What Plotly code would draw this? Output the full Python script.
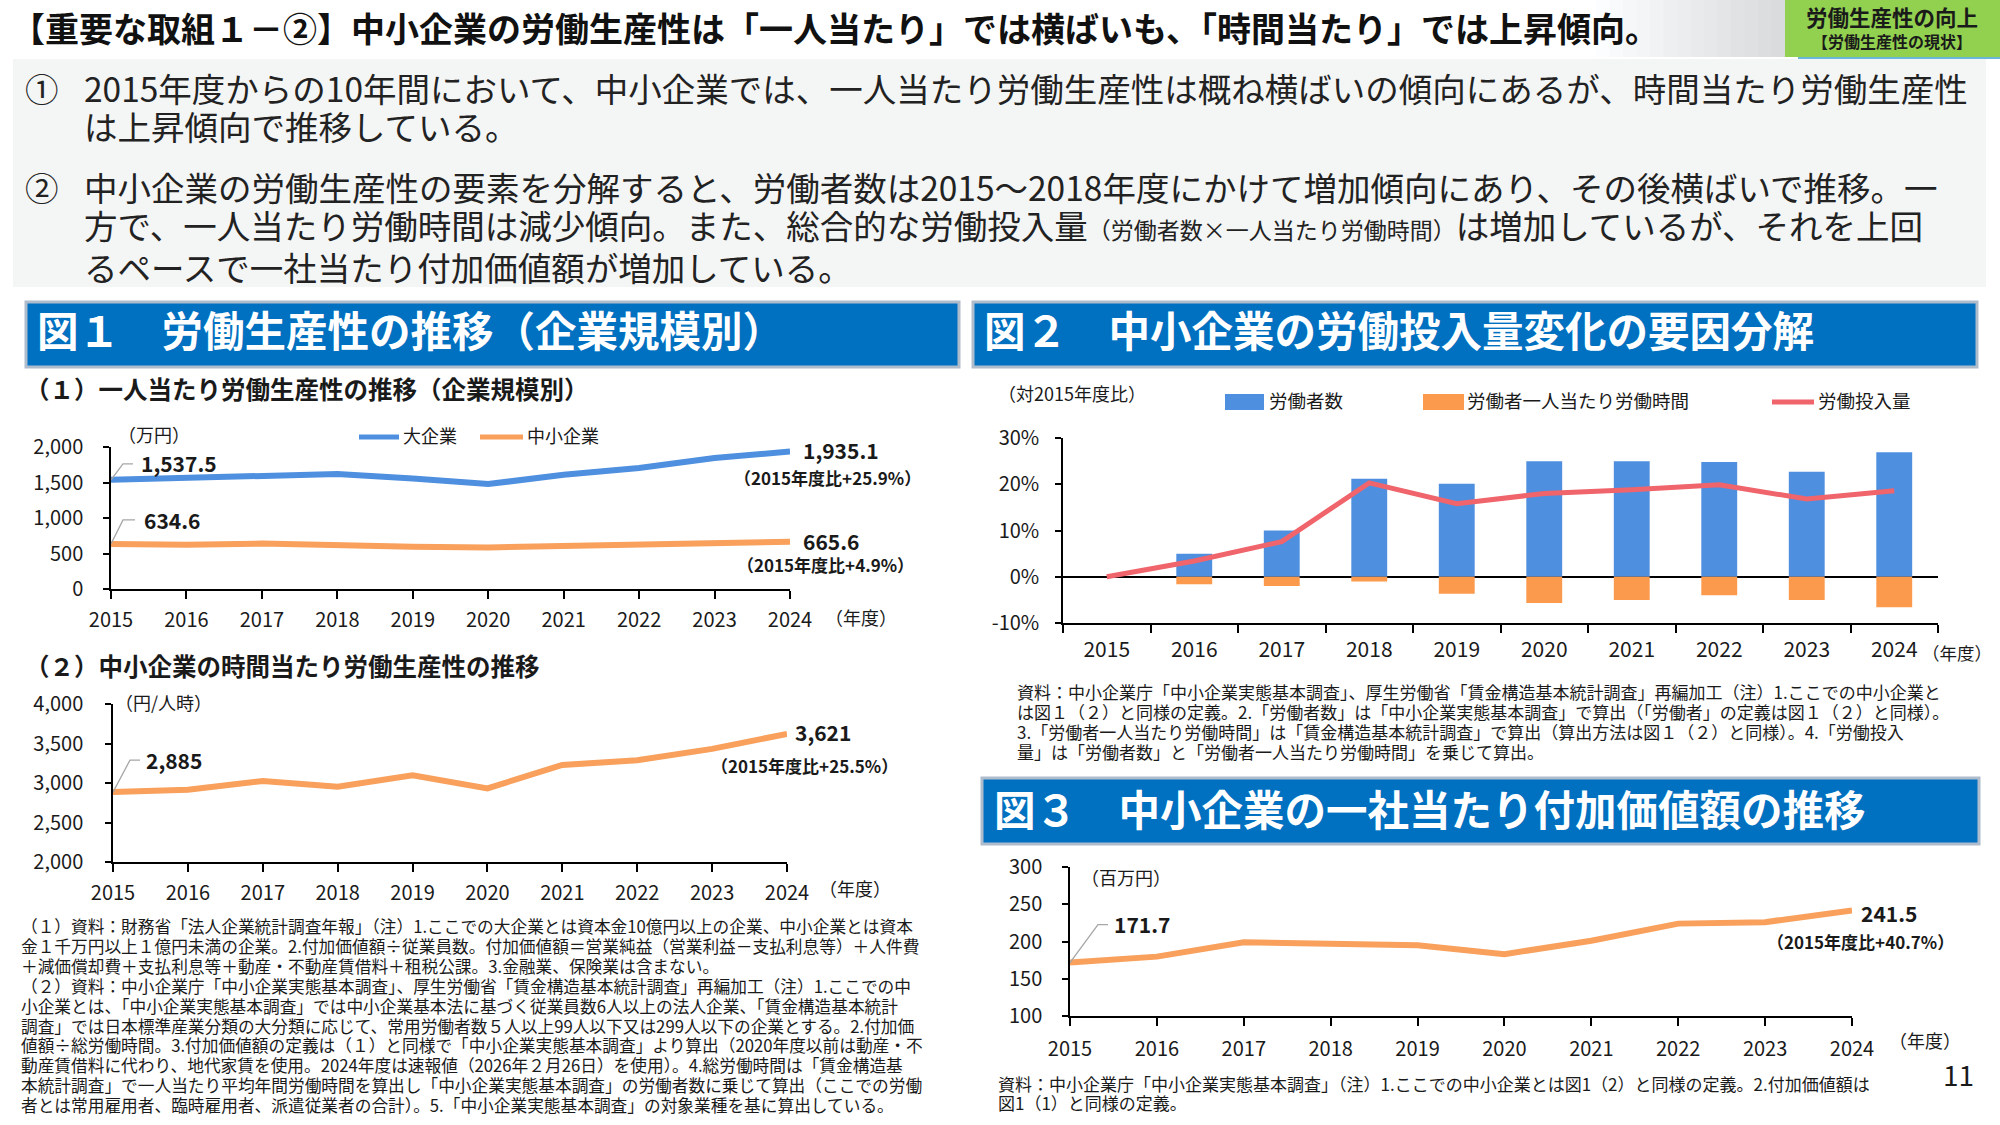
import plotly.graph_objects as go

W, H = 2000, 1125
FONT = "Noto Sans CJK JP"
TXT = "#1a1a1a"

# ---------------- data ----------------
years = list(range(2015, 2025))
year_labels = [str(y) for y in years]

large_per_worker = [1537.5, 1565, 1582, 1620, 1555, 1478, 1610, 1705, 1845, 1935.1]   # 万円
sme_per_worker = [634.6, 622, 640, 610, 596, 585, 605, 617, 630, 665.6]               # 万円
sme_per_hour = [2885, 2915, 3025, 2953, 3097, 2932, 3229, 3288, 3432, 3621]           # 円/人時
workers_pct = [0, 5.0, 10.0, 21.2, 20.1, 25.0, 25.0, 24.8, 22.7, 26.9]                 # 労働者数
hours_pct = [0, -1.6, -2.0, -1.0, -3.7, -5.7, -5.0, -4.0, -5.0, -6.6]                 # 一人当たり労働時間
labor_input_pct = [0, 3.4, 7.6, 20.3, 15.8, 18.0, 18.8, 19.9, 16.8, 18.6]             # 労働投入量
value_added = [171.7, 179.7, 199.0, 196.0, 195.0, 183.0, 201.0, 224.0, 226.0, 241.5]  # 百万円

fig1a_ticks = [0, 500, 1000, 1500, 2000]
fig1b_ticks = [2000, 2500, 3000, 3500, 4000]
fig2_ticks = [-10, 0, 10, 20, 30]
fig2_ticktext = [f"{v}%" for v in fig2_ticks]
fig3_ticks = [100, 150, 200, 250, 300]

BLUE = "#4e8fdf"
ORANGE = "#f8a05c"
BAR_BLUE = "#4f8fe0"
BAR_ORANGE = "#fb9a4c"
RED = "#f0646b"
LEADER = "#a6a6a6"
HEADER = "#0070c0"


def fx(x):
    return x / W


def fy(y):
    return 1 - y / H


annotations = []
shapes = []


def text(x, y, s, size, bold=False, color=TXT, xanchor="left", yanchor="middle"):
    annotations.append(dict(
        xref="paper", yref="paper", x=fx(x), y=fy(y), text=s, showarrow=False,
        xanchor=xanchor, yanchor=yanchor, borderpad=0,
        font=dict(family=FONT, size=size, color=color, weight="bold" if bold else "normal")))


def rect(x0, y0, x1, y1, fill, line=None, lw=0):
    shapes.append(dict(type="rect", xref="paper", yref="paper",
                       x0=fx(x0), x1=fx(x1), y0=fy(y1), y1=fy(y0),
                       fillcolor=fill, line=dict(color=line or fill, width=lw), layer="below"))


def hline(x0, x1, y, color, width):
    shapes.append(dict(type="line", xref="paper", yref="paper",
                       x0=fx(x0), x1=fx(x1), y0=fy(y), y1=fy(y),
                       line=dict(color=color, width=width)))


def dlabel(xa, ya, x, y, s, size, xshift, yshift, xanchor="left", yanchor="middle"):
    annotations.append(dict(
        xref=xa, yref=ya, x=x, y=y, text=s, showarrow=False, xanchor=xanchor, yanchor=yanchor,
        xshift=xshift, yshift=yshift, borderpad=0,
        font=dict(family=FONT, size=size, color=TXT, weight="bold")))


def leader(xa, ya, x, y, path):
    shapes.append(dict(type="path", xref=xa, yref=ya, xsizemode="pixel", ysizemode="pixel",
                       xanchor=x, yanchor=y, path=path, line=dict(color=LEADER, width=1.3)))


# ---------------- page decoration ----------------
n = 14
for i in range(n):
    x0 = 1596 + (1785 - 1596) * i / n
    x1 = 1596 + (1785 - 1596) * (i + 1) / n + 0.5
    g = int(252 - (252 - 218) * (i / (n - 1)))
    rect(x0, 0, x1, 57, f"rgb({g},{g + 1},{g + 3})")
rect(1785, 0, 2000, 57, "#92d050")
hline(1798, 2000, 58, "#3a9fd0", 1.5)
text(1892, 16, "労働生産性の向上", 21.5, bold=True, xanchor="center")
text(1892, 41, "【労働生産性の現状】", 16, bold=True, xanchor="center")

# title
text(10, 27, "【重要な取組１－②】中小企業の労働生産性は「一人当たり」では横ばいも、「時間当たり」では上昇傾向。",
     34, bold=True, color="#111111")

# summary box
rect(13, 59, 1986, 287, "#f4f5f5")
SUM = 33.5
SUMC = "#222222"
text(24, 87, "①", SUM, color=SUMC)
text(83, 87, "2015年度からの10年間において、中小企業では、一人当たり労働生産性は概ね横ばいの傾向にあるが、時間当たり労働生産性", SUM, color=SUMC)
text(83, 126, "は上昇傾向で推移している。", SUM, color=SUMC)
text(24, 186, "②", SUM, color=SUMC)
text(83, 186, "中小企業の労働生産性の要素を分解すると、労働者数は2015～2018年度にかけて増加傾向にあり、その後横ばいで推移。一", SUM, color=SUMC)
text(83, 224, "方で、一人当たり労働時間は減少傾向。また、総合的な労働投入量<span style='font-size:23px'>（労働者数×一人当たり労働時間）</span>は増加しているが、それを上回", SUM, color=SUMC)
text(83, 266, "るペースで一社当たり付加価値額が増加している。", SUM, color=SUMC)

# figure headers
rect(26, 302, 959, 367, HEADER, line="#aebccb", lw=3)
text(36, 329, "図１　労働生産性の推移（企業規模別）", 41.5, bold=True, color="white")
rect(973, 302, 1977, 367, HEADER, line="#aebccb", lw=3)
text(983, 329, "図２　中小企業の労働投入量変化の要因分解", 41.5, bold=True, color="white")
rect(982, 778, 1979, 844, HEADER, line="#aebccb", lw=3)
text(993, 808, "図３　中小企業の一社当たり付加価値額の推移", 41.5, bold=True, color="white")

# sub-titles
text(24, 389, "（１）一人当たり労働生産性の推移（企業規模別）", 24.5, bold=True)
text(24, 665, "（２）中小企業の時間当たり労働生産性の推移", 24.5, bold=True)

# unit / axis-title labels
text(117, 434, "（万円）", 18)
text(824, 617, "（年度）", 18)
text(114, 702, "（円/人時）", 18)
text(818, 888, "（年度）", 18)
text(997, 393, "（対2015年度比）", 18)
text(1921, 652, "（年度）", 17.5)
text(1080, 877, "（百万円）", 18)
text(1888, 1040, "（年度）", 18)

# legend: figure 1 (1)
hline(359, 399, 437, BLUE, 5)
text(402, 435, "大企業", 18)
hline(480, 523, 437, ORANGE, 5)
text(526, 435, "中小企業", 18)

# legend: figure 2
rect(1225, 394, 1264, 410, BAR_BLUE)
text(1268, 400, "労働者数", 18.5)
rect(1423, 394, 1464, 410, BAR_ORANGE)
text(1466, 400, "労働者一人当たり労働時間", 18.5)
hline(1772, 1814, 402, RED, 5)
text(1817, 400, "労働投入量", 18.5)

# notes
notes1 = [
    "（１）資料：財務省「法人企業統計調査年報」（注）1.ここでの大企業とは資本金10億円以上の企業、中小企業とは資本",
    "金１千万円以上１億円未満の企業。2.付加価値額÷従業員数。付加価値額＝営業純益（営業利益－支払利息等）＋人件費",
    "＋減価償却費＋支払利息等＋動産・不動産賃借料＋租税公課。3.金融業、保険業は含まない。",
    "（２）資料：中小企業庁「中小企業実態基本調査」、厚生労働省「賃金構造基本統計調査」再編加工（注）1.ここでの中",
    "小企業とは、「中小企業実態基本調査」では中小企業基本法に基づく従業員数6人以上の法人企業、「賃金構造基本統計",
    "調査」では日本標準産業分類の大分類に応じて、常用労働者数５人以上99人以下又は299人以下の企業とする。2.付加価",
    "値額÷総労働時間。3.付加価値額の定義は（１）と同様で「中小企業実態基本調査」より算出（2020年度以前は動産・不",
    "動産賃借料に代わり、地代家賃を使用。2024年度は速報値（2026年２月26日）を使用）。4.総労働時間は「賃金構造基",
    "本統計調査」で一人当たり平均年間労働時間を算出し「中小企業実態基本調査」の労働者数に乗じて算出（ここでの労働",
    "者とは常用雇用者、臨時雇用者、派遣従業者の合計）。5.「中小企業実態基本調査」の対象業種を基に算出している。",
]
for i, s in enumerate(notes1):
    text(20, 926 + i * 19.9, s, 16.7)

notes2 = [
    "資料：中小企業庁「中小企業実態基本調査」、厚生労働省「賃金構造基本統計調査」再編加工（注）1.ここでの中小企業と",
    "は図１（２）と同様の定義。2.「労働者数」は「中小企業実態基本調査」で算出（「労働者」の定義は図１（２）と同様）。",
    "3.「労働者一人当たり労働時間」は「賃金構造基本統計調査」で算出（算出方法は図１（２）と同様）。4.「労働投入",
    "量」は「労働者数」と「労働者一人当たり労働時間」を乗じて算出。",
]
for i, s in enumerate(notes2):
    text(1016, 691 + i * 20, s, 17)

notes3 = [
    "資料：中小企業庁「中小企業実態基本調査」（注）1.ここでの中小企業とは図1（2）と同様の定義。2.付加価値額は",
    "図1（1）と同様の定義。",
]
for i, s in enumerate(notes3):
    text(997, 1083 + i * 19.5, s, 17)

text(1958, 1074, "11", 28, xanchor="center")

# ---------------- traces ----------------
common = dict(mode="lines", cliponaxis=False, showlegend=False, hoverinfo="skip")
fig = go.Figure()
fig.add_trace(go.Scatter(x=years, y=large_per_worker, line=dict(color=BLUE, width=6),
                         xaxis="x", yaxis="y", **common))
fig.add_trace(go.Scatter(x=years, y=sme_per_worker, line=dict(color=ORANGE, width=6),
                         xaxis="x", yaxis="y", **common))
fig.add_trace(go.Scatter(x=years, y=sme_per_hour, line=dict(color=ORANGE, width=6),
                         xaxis="x2", yaxis="y2", **common))
fig.add_trace(go.Bar(x=year_labels, y=workers_pct, marker=dict(color=BAR_BLUE, line=dict(width=0)),
                     width=0.41, xaxis="x3", yaxis="y3", showlegend=False, hoverinfo="skip"))
fig.add_trace(go.Bar(x=year_labels, y=hours_pct, marker=dict(color=BAR_ORANGE, line=dict(width=0)),
                     width=0.41, xaxis="x3", yaxis="y3", showlegend=False, hoverinfo="skip"))
fig.add_trace(go.Scatter(x=year_labels, y=labor_input_pct, line=dict(color=RED, width=5),
                         xaxis="x3", yaxis="y3", **common))
fig.add_trace(go.Scatter(x=years, y=value_added, line=dict(color=ORANGE, width=6),
                         xaxis="x4", yaxis="y4", **common))

# ---------------- data labels ----------------
leader("x", "y", years[0], large_per_worker[0], "M0,0 L12,16 L22,16")
dlabel("x", "y", years[0], large_per_worker[0], f"{large_per_worker[0]:,.1f}", 21, 29, 17)
leader("x", "y", years[0], sme_per_worker[0], "M0,0 L12,24 L24,24")
dlabel("x", "y", years[0], sme_per_worker[0], f"{sme_per_worker[0]:,.1f}", 21, 32, 24)
dlabel("x", "y", years[-1], large_per_worker[-1], f"{large_per_worker[-1]:,.1f}", 21, 12, 2)
dlabel("x", "y", years[-1], large_per_worker[-1],
       f"（2015年度比+{(large_per_worker[-1] / large_per_worker[0] - 1) * 100:.1f}%）", 17, 37, -26, xanchor="center")
dlabel("x", "y", years[-1], sme_per_worker[-1], f"{sme_per_worker[-1]:,.1f}", 21, 12, 1)
dlabel("x", "y", years[-1], sme_per_worker[-1],
       f"（2015年度比+{(sme_per_worker[-1] / sme_per_worker[0] - 1) * 100:.1f}%）", 17, 35, -23, xanchor="center")

leader("x2", "y2", years[0], sme_per_hour[0], "M0,0 L17,32 L27,32")
dlabel("x2", "y2", years[0], sme_per_hour[0], f"{sme_per_hour[0]:,}", 21, 32, 32)
dlabel("x2", "y2", years[-1], sme_per_hour[-1], f"{sme_per_hour[-1]:,}", 21, 7, 2)
dlabel("x2", "y2", years[-1], sme_per_hour[-1],
       f"（2015年度比+{(sme_per_hour[-1] / sme_per_hour[0] - 1) * 100:.1f}%）", 17, 17, -32, xanchor="center")

dlabel("x3", "y3", year_labels[-1], workers_pct[-1], f"{workers_pct[-1]:.1f}%", 21, 5, 3,
       xanchor="center", yanchor="bottom")
leader("x3", "y3", year_labels[-1], labor_input_pct[-1], "M2,0 L9,5 L19,5")
dlabel("x3", "y3", year_labels[-1], labor_input_pct[-1], f"{labor_input_pct[-1]:.1f}%", 21, 21, 4)
dlabel("x3", "y3", year_labels[-1], hours_pct[-1], f"{hours_pct[-1]:.1f}%", 21, 34, 7, xanchor="center")

leader("x4", "y4", years[0], value_added[0], "M0,0 L28,38 L38,38")
dlabel("x4", "y4", years[0], value_added[0], f"{value_added[0]:.1f}", 21, 43, 39)
dlabel("x4", "y4", years[-1], value_added[-1], f"{value_added[-1]:.1f}", 21, 8, -2)
dlabel("x4", "y4", years[-1], value_added[-1],
       f"（2015年度比+{(value_added[-1] / value_added[0] - 1) * 100:.1f}%）", 17, 8, -31, xanchor="center")

# ---------------- axes ----------------
base = dict(showgrid=False, zeroline=False, showline=True, linecolor="black", ticks="outside",
            tickcolor="black", fixedrange=True, automargin=False,
            tickfont=dict(family=FONT, size=20, color=TXT))


def xax(d0, d1, anchor, **kw):
    a = dict(base)
    a.update(domain=[fx(d0), fx(d1)], anchor=anchor, linewidth=2, ticklen=8, tickwidth=1.5,
             ticklabelstandoff=4)
    a.update(kw)
    return a


def yax(p0, p1, anchor, **kw):
    a = dict(base)
    a.update(domain=[fy(p1), fy(p0)], anchor=anchor, linewidth=1.5, ticklen=6, tickwidth=1.5)
    a.update(kw)
    return a


fig.update_layout(
    width=W, height=H, autosize=False,
    margin=dict(l=0, r=0, t=0, b=0, pad=0, autoexpand=False),
    paper_bgcolor="white", plot_bgcolor="rgba(0,0,0,0)",
    barmode="relative", showlegend=False,
    font=dict(family=FONT, color=TXT),
    xaxis=xax(111, 790, "y", range=[years[0], years[-1]], tickvals=years),
    yaxis=yax(447, 589, "x", range=[0, 2000], tickvals=fig1a_ticks, tickformat=",d", ticklabelstandoff=16),
    xaxis2=xax(113, 787, "y2", range=[years[0], years[-1]], tickvals=years, linewidth=1.5),
    yaxis2=yax(704, 862, "x2", range=[2000, 4000], tickvals=fig1b_ticks, tickformat=",d", ticklabelstandoff=18),
    xaxis3=xax(1063, 1938, "y3", type="category", range=[-0.5, 9.5], tickson="boundaries",
               categoryorder="array", categoryarray=year_labels, ticklabelstandoff=7,
               tickfont=dict(family=FONT, size=21, color=TXT)),
    yaxis3=yax(438, 623, "x3", range=[-10, 30], tickvals=fig2_ticks, ticktext=fig2_ticktext,
               zeroline=True, zerolinecolor="black", zerolinewidth=1.5, layer="above traces",
               ticklabelstandoff=12),
    xaxis4=xax(1070, 1852, "y4", range=[years[0], years[-1]], tickvals=years, ticklabelstandoff=6),
    yaxis4=yax(867, 1016, "x4", range=[100, 300], tickvals=fig3_ticks, ticklabelstandoff=16),
    annotations=annotations,
    shapes=shapes,
)

fig.write_html("out.html")
